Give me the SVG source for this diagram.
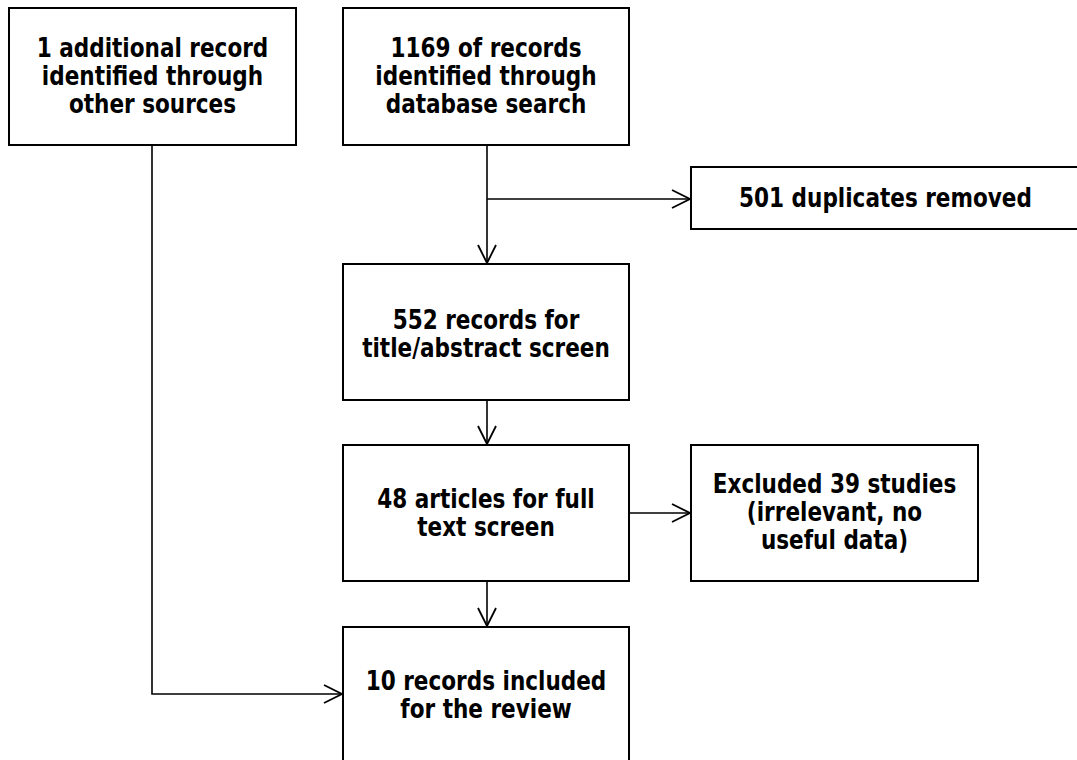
<svg xmlns="http://www.w3.org/2000/svg" width="1077" height="760" viewBox="0 0 1077 760">
<style>
.box{fill:#fff;stroke:#000;stroke-width:2}
.lbl{font-family:"DejaVu Sans","Liberation Sans",sans-serif;font-weight:bold;font-size:26px;fill:#000;text-anchor:middle}
.con{fill:none;stroke:#000;stroke-width:1.6}
</style>
<defs>
<marker id="arr" viewBox="0 0 20 20" refX="19" refY="10" markerWidth="20" markerHeight="20" markerUnits="userSpaceOnUse" orient="auto">
<path d="M1,1 L19,10 L1,19" fill="none" stroke="#000" stroke-width="1.8"/>
</marker>
</defs>
<rect width="1077" height="760" fill="#fff"/>
<g id="connectors">
<path class="con" d="M487,145 V263" marker-end="url(#arr)"/>
<path class="con" d="M487,199 H690" marker-end="url(#arr)"/>
<path class="con" d="M487,400 V444" marker-end="url(#arr)"/>
<path class="con" d="M629,513 H690" marker-end="url(#arr)"/>
<path class="con" d="M487,581 V626" marker-end="url(#arr)"/>
<path class="con" d="M152,145 V694 H342" marker-end="url(#arr)"/>
</g>
<g id="n-other">
<rect class="box" x="9" y="8" width="287" height="137"/>
<text class="lbl" transform="translate(152.5,0) scale(0.83,1)"><tspan x="0" y="57">1 additional record</tspan><tspan x="0" y="85">identified through</tspan><tspan x="0" y="113">other sources</tspan></text>
</g>
<g id="n-db">
<rect class="box" x="343" y="8" width="286" height="137"/>
<text class="lbl" transform="translate(486,0) scale(0.83,1)"><tspan x="0" y="57">1169 of records</tspan><tspan x="0" y="85">identified through</tspan><tspan x="0" y="113">database search</tspan></text>
</g>
<g id="n-dup">
<rect class="box" x="691" y="167" width="400" height="62"/>
<text class="lbl" transform="translate(885.5,0) scale(0.83,1)"><tspan x="0" y="207">501 duplicates removed</tspan></text>
</g>
<g id="n-title">
<rect class="box" x="343" y="264" width="286" height="136"/>
<text class="lbl" transform="translate(486,0) scale(0.83,1)"><tspan x="0" y="329">552 records for</tspan><tspan x="0" y="357">title/abstract screen</tspan></text>
</g>
<g id="n-full">
<rect class="box" x="343" y="445" width="286" height="136"/>
<text class="lbl" transform="translate(486,0) scale(0.83,1)"><tspan x="0" y="508">48 articles for full</tspan><tspan x="0" y="536">text screen</tspan></text>
</g>
<g id="n-excl">
<rect class="box" x="691" y="445" width="287" height="136"/>
<text class="lbl" transform="translate(834.5,0) scale(0.83,1)"><tspan x="0" y="493">Excluded 39 studies</tspan><tspan x="0" y="521">(irrelevant, no</tspan><tspan x="0" y="549">useful data)</tspan></text>
</g>
<g id="n-incl">
<rect class="box" x="343" y="627" width="286" height="160"/>
<text class="lbl" transform="translate(486,0) scale(0.83,1)"><tspan x="0" y="690">10 records included</tspan><tspan x="0" y="718">for the review</tspan></text>
</g>
</svg>
